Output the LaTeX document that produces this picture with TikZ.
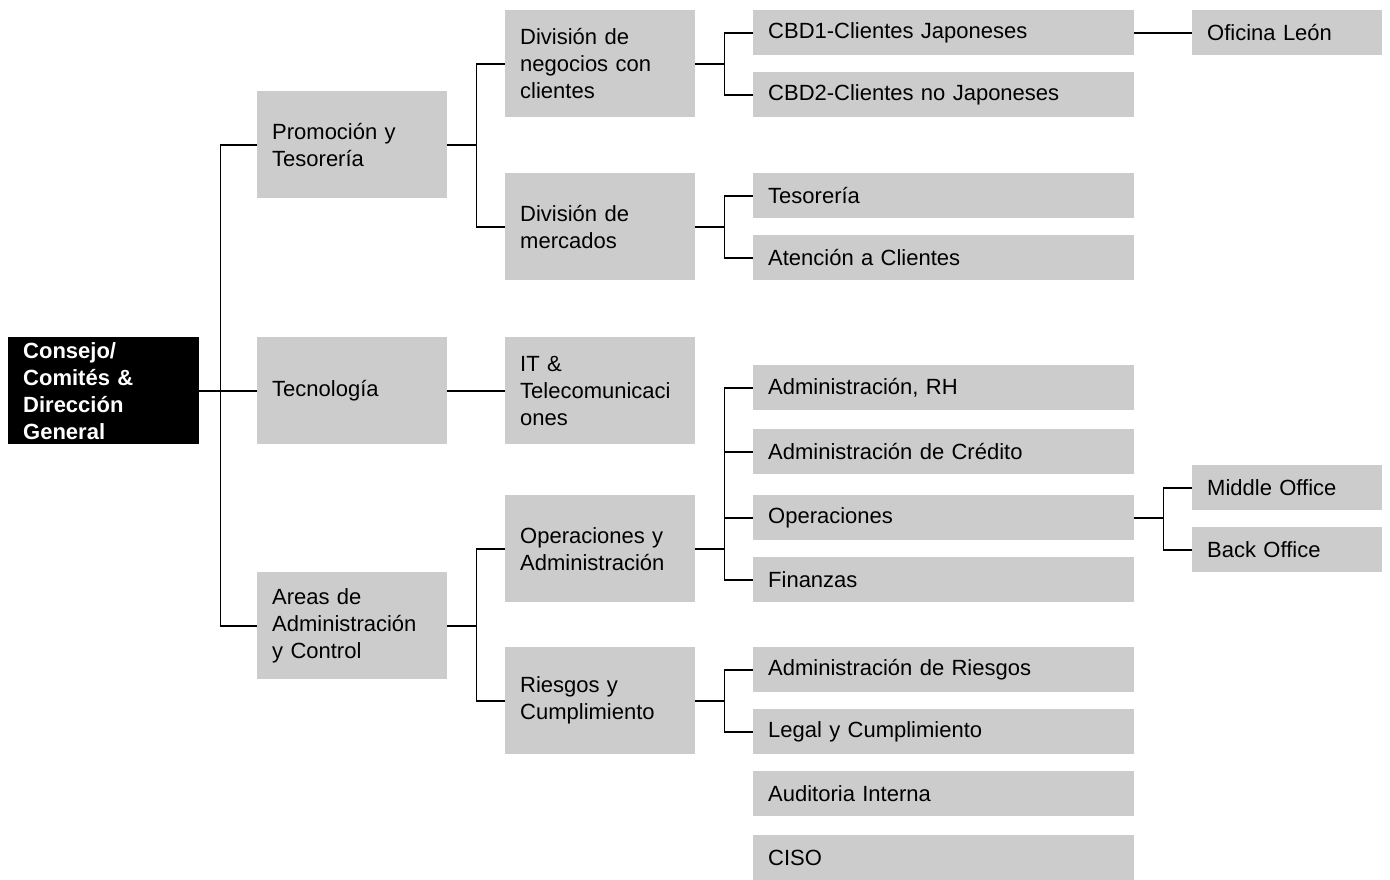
\documentclass[tikz,border=0pt]{standalone}
\usepackage{fontspec}
\setmainfont{Liberation Sans}
\definecolor{cajagris}{RGB}{204,204,204}
\begin{document}
\begin{tikzpicture}[x=1pt,y=-1pt,
	caja/.style={fill=cajagris,anchor=north west,inner xsep=15pt,inner ysep=0pt,align=left,text=black,font=\fontsize{22}{27}\selectfont},
	alta/.style={caja,minimum height=107pt,text width=160pt},
	baja/.style={caja,minimum height=45pt,text width=351pt},
	chica/.style={caja,minimum height=45pt,text width=160pt},
	raiz/.style={alta,fill=black,text=white,text width=161pt,font=\fontsize{22}{27}\selectfont\bfseries},
	linea/.style={line width=1.8pt}]
			\useasboundingbox (0,0) rectangle (1390,880);
			% nivel 0 y 1
			\node[raiz] (dir) at (8,337) {Consejo/\\Comités \&\\Dirección\\General};
			\node[alta] (prom) at (257,91) {Promoción y\\Tesorería};
			\node[alta] (tec) at (257,337) {Tecnología};
			\node[alta] (areas) at (257,572) {Areas de\\Administración\\y Control};
			% nivel 2
			\node[alta] (divneg) at (505,10) {División de\\negocios con\\clientes};
			\node[alta] (divmer) at (505,173) {División de\\mercados};
			\node[alta] (it) at (505,337) {IT \&\\Telecomunicaci\\ones};
			\node[alta] (opadm) at (505,495) {Operaciones y\\Administración};
			\node[alta] (riesgos) at (505,647) {Riesgos y\\Cumplimiento};
			% nivel 3
			\node[baja] (cbd1) at (753,10) {CBD1-Clientes Japoneses};
			\node[baja] (cbd2) at (753,72) {CBD2-Clientes no Japoneses};
			\node[baja] (teso) at (753,173) {Tesorería};
			\node[baja] (aten) at (753,235) {Atención a Clientes};
			\node[baja] (admrh) at (753,365) {Administración, RH};
			\node[baja] (admcred) at (753,429) {Administración de Crédito};
			\node[baja] (oper) at (753,495) {Operaciones};
			\node[baja] (fin) at (753,557) {Finanzas};
			\node[baja] (admries) at (753,647) {Administración de Riesgos};
			\node[baja] (legal) at (753,709) {Legal y Cumplimiento};
			\node[baja] (audit) at (753,771) {Auditoria Interna};
			\node[baja] (ciso) at (753,835) {CISO};
			% nivel 4
			\node[chica] (leon) at (1192,10) {Oficina León};
			\node[chica] (middle) at (1192,465) {Middle Office};
			\node[chica] (back) at (1192,527) {Back Office};
			% lineas
			\foreach \h in {prom,tec,areas} \draw[linea] (dir.east) -- ++(21,0) |- (\h.west);
			\foreach \h in {divneg,divmer} \draw[linea] (prom.east) -- ++(29,0) |- (\h.west);
			\draw[linea] (tec.east) -- (it.west);
			\foreach \h in {opadm,riesgos} \draw[linea] (areas.east) -- ++(29,0) |- (\h.west);
			\foreach \h in {cbd1,cbd2} \draw[linea] (divneg.east) -- ++(29,0) |- (\h.west);
			\foreach \h in {teso,aten} \draw[linea] (divmer.east) -- ++(29,0) |- (\h.west);
			\foreach \h in {admrh,admcred,oper,fin} \draw[linea] (opadm.east) -- ++(29,0) |- (\h.west);
			\foreach \h in {admries,legal} \draw[linea] (riesgos.east) -- ++(29,0) |- (\h.west);
			\draw[linea] (cbd1.east) -- (leon.west);
			\foreach \h in {middle,back} \draw[linea] (oper.east) -- ++(29,0) |- (\h.west);
	\end{tikzpicture}
\end{document}
